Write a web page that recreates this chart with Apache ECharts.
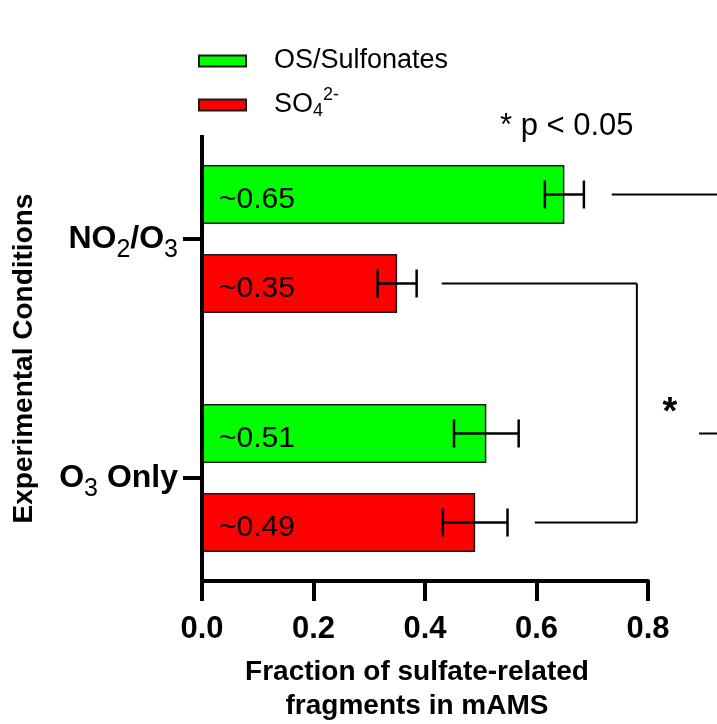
<!DOCTYPE html>
<html>
<head>
<meta charset="utf-8">
<script src="https://cdn.jsdelivr.net/npm/echarts@6/dist/echarts.min.js"></script>
<style>
  html, body { margin: 0; padding: 0; background: #fff; }
  #main { width: 717px; height: 724px; }
</style>
</head>
<body>
<div id="main"></div>
<script>
// data
const categories = ['NO2/O3', 'O3 Only'];
const seriesNames = ['OS/Sulfonates', 'SO4 2-'];
const osValues = [0.65, 0.51];
const so4Values = [0.35, 0.49];
const osErrors = [0.035, 0.058];
const so4Errors = [0.035, 0.058];
const xMin = 0, xMax = 0.8, xStep = 0.2;

const BAR_W = 59;
const BAR_GAP = 30;
const OFF = (BAR_W + BAR_GAP) / 2;
const FONT = 'Liberation Sans, Arial, sans-serif';

const catLabel = {
  'NO2/O3': '{b|NO}{s|2}{b|/O}{s|3}',
  'O3 Only': '{b|O}{s|3}{b| Only}'
};

function errorSeries(vals, errs, slot) {
  return {
    type: 'custom',
    z: 5,
    silent: true,
    encode: { x: 0, y: 1 },
    data: vals.map((v, i) => [v, i, errs[i]]),
    renderItem: function (params, api) {
      const v = api.value(0), ci = api.value(1), e = api.value(2);
      const a = api.coord([v - e, ci]);
      const b = api.coord([v + e, ci]);
      const y = a[1] + slot * OFF;
      const h = 14;
      const st = { stroke: '#000', lineWidth: 2.5 };
      return {
        type: 'group',
        children: [
          { type: 'line', shape: { x1: a[0], y1: y, x2: b[0], y2: y }, style: st },
          { type: 'line', shape: { x1: a[0], y1: y - h, x2: a[0], y2: y + h }, style: st },
          { type: 'line', shape: { x1: b[0], y1: y - h, x2: b[0], y2: y + h }, style: st }
        ]
      };
    }
  };
}

const barLabel = {
  show: true,
  position: 'insideLeft',
  distance: 17,
  offset: [0, 5],
  color: '#000',
  fontSize: 30,
  fontFamily: FONT,
  formatter: p => '~' + p.value.toFixed(2)
};

const chart = echarts.init(document.getElementById('main'));
chart.setOption({
  backgroundColor: '#fff',
  animation: false,
  textStyle: { fontFamily: FONT, color: '#000' },
  grid: { left: 202, right: 69, top: 119.5, height: 478, outerBoundsMode: 'none' },
  legend: {
    orient: 'vertical',
    left: 198,
    top: 47.5,
    padding: 0,
    itemWidth: 47,
    itemHeight: 11,
    itemGap: 11.5,
    icon: 'rect',
    data: seriesNames,
    textStyle: {
      fontSize: 27,
      color: '#000',
      padding: [0, 0, 0, 23],
      rich: {
        n: { fontSize: 27, color: '#000' },
        sub: { fontSize: 18, color: '#000', padding: [13, 0, 0, 0] },
        sup: { fontSize: 18, color: '#000', padding: [0, 0, 20, 0] }
      }
    },
    formatter: n => n === 'SO4 2-' ? '{n|SO}{sub|4}{sup|2-}' : n
  },
  xAxis: {
    type: 'value',
    min: xMin,
    max: xMax,
    interval: xStep,
    offset: -16.5,
    axisLine: { show: true, lineStyle: { color: '#000', width: 4 } },
    axisTick: { show: true, length: 20, lineStyle: { color: '#000', width: 4 } },
    splitLine: { show: false },
    axisLabel: {
      fontSize: 31,
      fontWeight: 'bold',
      color: '#000',
      margin: 33,
      formatter: v => v.toFixed(1)
    },
    name: 'Fraction of sulfate-related\nfragments in mAMS',
    nameLocation: 'middle',
    nameGap: 74,
    nameTextStyle: { fontSize: 28, fontWeight: 'bold', color: '#000', lineHeight: 34, padding: [0, 16, 0, 0] }
  },
  yAxis: {
    type: 'category',
    inverse: true,
    data: categories,
    axisLine: { show: false },
    axisTick: { show: true, alignWithLabel: true, length: 19, lineStyle: { color: '#000', width: 4 } },
    axisLabel: {
      margin: 24,
      formatter: v => catLabel[v],
      rich: {
        b: { fontSize: 32, fontWeight: 'bold', color: '#000' },
        s: { fontSize: 25, color: '#000', padding: [22, 0, 0, 0] }
      }
    },
    name: 'Experimental Conditions',
    nameLocation: 'middle',
    nameRotate: 90,
    nameGap: 164,
    nameTextStyle: { fontSize: 28, fontWeight: 'bold', color: '#000' }
  },
  series: [
    {
      name: seriesNames[0],
      type: 'bar',
      data: osValues,
      barWidth: BAR_W,
      barGap: (BAR_GAP / BAR_W * 100) + '%',
      itemStyle: { color: '#00ff00', borderColor: '#1a1a1a', borderWidth: 1.5 },
      label: barLabel
    },
    {
      name: seriesNames[1],
      type: 'bar',
      data: so4Values,
      barWidth: BAR_W,
      barGap: (BAR_GAP / BAR_W * 100) + '%',
      itemStyle: { color: '#ff0000', borderColor: '#1a1a1a', borderWidth: 1.5 },
      label: barLabel
    },
    errorSeries(osValues, osErrors, -1),
    errorSeries(so4Values, so4Errors, 1)
  ]
});

// axis line, significance brackets and notes
function pt(x, cat, slot) {
  const p = chart.convertToPixel({ gridIndex: 0 }, [x, cat]);
  return [p[0], p[1] + slot * OFF];
}
const ln = (a, b) => ({
  type: 'line', z: 10, silent: true,
  shape: { x1: a[0], y1: a[1], x2: b[0], y2: b[1] },
  style: { stroke: '#000', lineWidth: 2 }
});

const axisX = pt(0, categories[0], 0)[0];
const axisTopY = pt(0, categories[0], 0)[1] - 104;
const axisBottomY = pt(0, categories[1], 0)[1] + 105;

// inner bracket: SO4 NO2/O3 vs SO4 O3 only
const i1 = pt(0.43, categories[0], 1);
const iv1 = pt(0.78, categories[0], 1);
const iv2 = pt(0.78, categories[1], 1);
const i2 = pt(0.597, categories[1], 1);
// outer bracket (runs off the right edge)
const o1 = pt(0.735, categories[0], -1);
const o1e = pt(0.95, categories[0], -1);
const o2 = pt(0.8915, categories[1], -1);
const o2e = pt(0.95, categories[1], -1);

chart.setOption({
  graphic: [
    { type: 'line', z: 10, silent: true, shape: { x1: axisX, y1: axisTopY, x2: axisX, y2: axisBottomY }, style: { stroke: '#000', lineWidth: 4 } },
    ln(i1, iv1), ln(iv1, iv2), ln(iv2, i2),
    ln(o1, o1e), ln(o2, o2e),
    {
      type: 'text', z: 10, silent: true,
      x: iv1[0] + 33, y: (iv1[1] + iv2[1]) / 2 + 11,
      style: { text: '*', fontSize: 38, fontWeight: 'bold', fontFamily: FONT, fill: '#000', align: 'center', verticalAlign: 'middle' }
    },
    {
      type: 'text', z: 10, silent: true,
      x: 500, y: 126,
      style: { text: '* p < 0.05', fontSize: 31, fontFamily: FONT, fill: '#000', align: 'left', verticalAlign: 'middle' }
    }
  ]
});
</script>
</body>
</html>
